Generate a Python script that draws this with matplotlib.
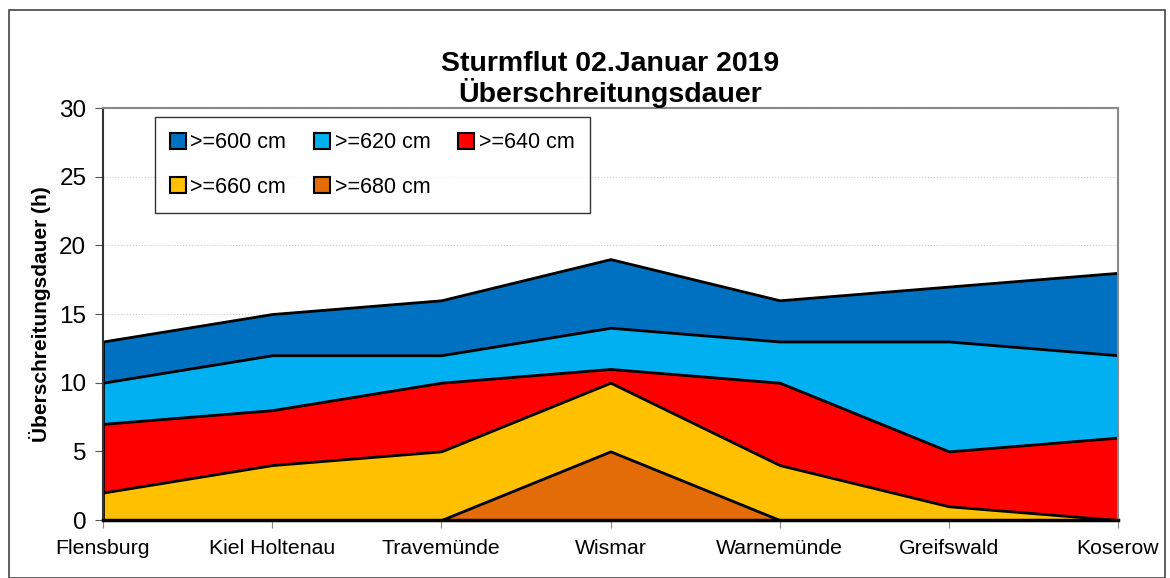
import matplotlib.pyplot as plt
from matplotlib.patches import Patch, Rectangle

plt.rcParams['font.family'] = ['Liberation Sans', 'DejaVu Sans']

orte = ['Flensburg', 'Kiel Holtenau', 'Travemünde', 'Wismar', 'Warnemünde', 'Greifswald', 'Koserow']
ueber_600 = [13, 15, 16, 19, 16, 17, 18]
ueber_620 = [10, 12, 12, 14, 13, 13, 12]
ueber_640 = [7, 8, 10, 11, 10, 5, 6]
ueber_660 = [2, 4, 5, 10, 4, 1, 0]
ueber_680 = [0, 0, 0, 5, 0, 0, 0]

labels = ['>=600 cm', '>=620 cm', '>=640 cm', '>=660 cm', '>=680 cm']
colors = ['#0070C0', '#00B0F0', '#FF0000', '#FFC000', '#E36C09']
series = [ueber_600, ueber_620, ueber_640, ueber_660, ueber_680]

fig = plt.figure(figsize=(11.7, 5.78), dpi=100)
ax = fig.add_axes([0.088, 0.1003, 0.8676, 0.7128])

x = list(range(len(orte)))
for vals, col in zip(series, colors):
    ax.fill_between(x, 0, vals, facecolor=col, edgecolor='black', linewidth=2, zorder=2)

ax.set_xlim(0, len(orte) - 1)
ax.set_ylim(0, 30)
ax.set_yticks(range(0, 31, 5))
ax.set_xticks(x)
ax.set_xticklabels(orte, fontsize=15.3)
ax.tick_params(axis='y', labelsize=17.5, length=6, color='#555555', pad=6)
ax.tick_params(axis='x', length=6, color='#888888', pad=8)
ax.grid(axis='y', color='#cccccc', linestyle=':', linewidth=0.8, zorder=0)
ax.set_axisbelow(True)

for s in ['top', 'right']:
    ax.spines[s].set_color('#888888')
    ax.spines[s].set_linewidth(1.5)
ax.spines['left'].set_color('#333333')
ax.spines['left'].set_linewidth(1.5)
ax.spines['bottom'].set_color('black')
ax.spines['bottom'].set_linewidth(2.5)

ax.set_ylabel('Überschreitungsdauer (h)', fontsize=15, fontweight='bold', labelpad=6)
ax.set_title('Sturmflut 02.Januar 2019\nÜberschreitungsdauer', fontsize=20.5, fontweight='bold',
             linespacing=1.05, pad=4)

# Legende zeilenweise: Reihenfolge fuer ncol=3 umsortieren
order = [0, 3, 1, 4, 2]
handles = [Patch(facecolor=colors[i], edgecolor='black', linewidth=1.5) for i in order]
leg = ax.legend(handles, [labels[i] for i in order], ncol=3, loc='upper left',
                bbox_to_anchor=(0.051, 0.978), borderaxespad=0,
                fontsize=15.5, frameon=True, fancybox=False, edgecolor='black',
                handlelength=0.75, handleheight=0.75, handletextpad=0.2,
                columnspacing=1.3, labelspacing=1.1, borderpad=0.7)
leg.get_frame().set_linewidth(1.0)
leg.set_zorder(5)

fig.patches.append(Rectangle((9 / 1170, 0), 1 - 14 / 1170, 1 - 10 / 578, transform=fig.transFigure,
                             fill=False, edgecolor='#444444', linewidth=1.2))

fig.savefig('out.png', dpi=100)
